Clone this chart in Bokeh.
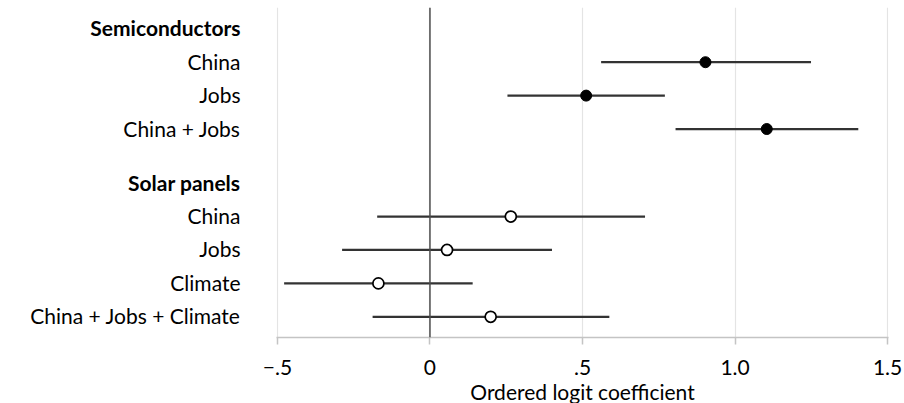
from bokeh.plotting import figure
from bokeh.layouts import row
from bokeh.models import Range1d, FixedTicker, Span, ColumnDataSource
from bokeh.core.properties import value
from bokeh.embed import file_html
from bokeh.resources import INLINE

# ---- data ----
group_names = ["Semiconductors", "Solar panels"]
semi_labels = ["China", "Jobs", "China + Jobs"]
semi_coef = [0.903, 0.512, 1.104]
semi_lo = [0.561, 0.254, 0.805]
semi_hi = [1.249, 0.770, 1.404]
solar_labels = ["China", "Jobs", "Climate", "China + Jobs + Climate"]
solar_coef = [0.265, 0.056, -0.169, 0.199]
solar_lo = [-0.173, -0.288, -0.478, -0.188]
solar_hi = [0.705, 0.400, 0.140, 0.588]
x_ticks = [-0.5, 0, 0.5, 1.0, 1.5]
x_tick_labels = ["\u2212.5", "0", ".5", "1.0", "1.5"]
x_title = "Ordered logit coefficient"

FONT = "Lato"
FS = "21px"

# row positions (header row, then its rows; extra gap between groups)
group_gap = 0.62
semi_head = 0.0
semi_y = [semi_head + i + 1 for i in range(len(semi_labels))]
solar_head = semi_y[-1] + 1 + group_gap
solar_y = [solar_head + i + 1 for i in range(len(solar_labels))]

y_range = Range1d(9.24, -0.6375)
FH = 330

# ---- label column ----
lf = figure(width=250, frame_height=FH, output_backend="svg", toolbar_location=None,
            x_range=Range1d(0, 250), y_range=y_range,
            x_axis_location=None, y_axis_location=None,
            min_border_left=0, min_border_right=0, min_border_top=7, min_border_bottom=66)
lf.outline_line_color = None
lf.grid.visible = False

norm_labels = semi_labels + solar_labels
norm_y = semi_y + solar_y
lf.text(x=[240] * len(norm_labels), y=norm_y, text=norm_labels, y_offset=-1,
        text_align="right", text_baseline="middle", text_font=value(FONT),
        text_font_size=FS, text_color="black")
lf.text(x=[240] * 2, y=[semi_head, solar_head], text=group_names, y_offset=-1,
        text_align="right", text_baseline="middle", text_font=value(FONT),
        text_font_size=FS, text_font_style="bold", text_color="black")

# ---- main plot ----
p = figure(width=654, frame_height=FH, output_backend="svg", toolbar_location=None,
           x_range=Range1d(-0.503, 1.503), y_range=y_range,
           y_axis_location=None, min_border_left=26, min_border_right=16,
           min_border_top=7, min_border_bottom=66)
p.outline_line_color = None

p.xgrid.ticker = FixedTicker(ticks=x_ticks)
p.xgrid.grid_line_color = "#e4e4e4"
p.xgrid.grid_line_width = 1.2
p.ygrid.visible = False

ax = p.xaxis[0]
ax.ticker = FixedTicker(ticks=x_ticks)
ax.major_label_overrides = {t: l for t, l in zip(x_ticks, x_tick_labels)}
ax.major_label_text_font = FONT
ax.major_label_text_font_size = FS
ax.major_label_text_color = "black"
ax.axis_line_color = "#c4c4c4"
ax.axis_line_width = 1.5
ax.major_tick_line_color = "#c4c4c4"
ax.major_tick_line_width = 1.5
ax.major_tick_out = 7
ax.major_tick_in = 0
ax.minor_tick_line_color = None
ax.major_label_standoff = 15
ax.axis_label = x_title
ax.axis_label_text_font = FONT
ax.axis_label_text_font_size = FS
ax.axis_label_text_font_style = "normal"
ax.axis_label_text_color = "black"
ax.axis_label_standoff = 1

p.add_layout(Span(location=0, dimension="height", line_color="#4d4d4d", line_width=1.5))

semi_src = ColumnDataSource(dict(y=semi_y, c=semi_coef, lo=semi_lo, hi=semi_hi))
solar_src = ColumnDataSource(dict(y=solar_y, c=solar_coef, lo=solar_lo, hi=solar_hi))

p.segment(x0="lo", x1="hi", y0="y", y1="y", source=semi_src, line_color="#333333", line_width=2.2)
p.segment(x0="lo", x1="hi", y0="y", y1="y", source=solar_src, line_color="#333333", line_width=2.2)
p.scatter(x="c", y="y", source=semi_src, size=11, fill_color="black", line_color="black")
p.scatter(x="c", y="y", source=solar_src, size=11, fill_color="white", line_color="black", line_width=1.7)

layout = row(lf, p, spacing=0)
html = file_html(layout, INLINE)
html = html.replace("<head>", "<head><style>html,body{overflow:hidden}</style>", 1)
open("out.html", "w").write(html)
